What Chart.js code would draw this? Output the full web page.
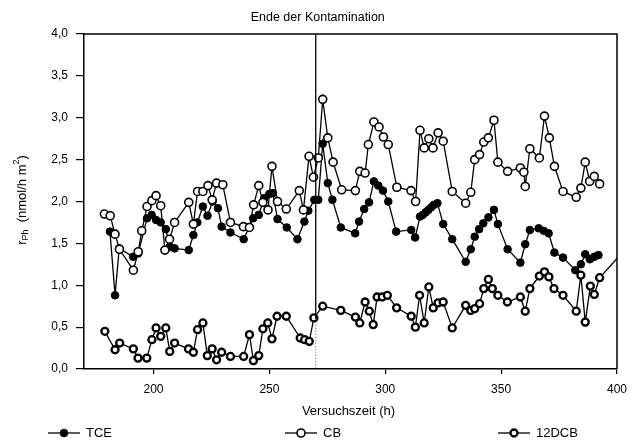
<!DOCTYPE html>
<html>
<head>
<meta charset="utf-8">
<script src="https://cdn.jsdelivr.net/npm/chart.js@4"></script>
<style>
  html, body { margin: 0; padding: 0; background: #fff; }
  #caixa { width: 640px; height: 442px; }
</style>
</head>
<body>
<div id="caixa"><canvas id="grafico"></canvas></div>
<script>
// tempos (h) e valores r_Ph
const tceHoras = [181.2, 183.4, 185.2, 191.2, 193.4, 197.2, 199.2, 201.1, 203.1, 205.3, 207.1, 209.1, 215.2, 217.2, 218.9, 221.3, 223.3, 225.5, 227.8, 229.4, 233.2, 238.9, 243.0, 245.4, 247.8, 250.0, 251.5, 253.5, 257.5, 262.1, 265.1, 266.8, 269.4, 271.1, 273.0, 275.2, 277.2, 280.8, 287.0, 288.7, 290.9, 293.0, 295.1, 297.0, 299.0, 301.3, 304.7, 311.2, 312.9, 315.0, 316.2, 317.4, 318.6, 319.8, 321.0, 322.5, 325.0, 328.9, 334.7, 336.9, 338.6, 340.5, 342.3, 344.5, 346.9, 348.6, 352.8, 358.3, 360.4, 362.4, 366.2, 368.4, 370.5, 373.0, 376.7, 382.0, 384.4, 386.3, 388.3, 390.2, 392.0];
const tceValores = [1.64, 0.88, 1.44, 1.34, 1.38, 1.80, 1.84, 1.78, 1.75, 1.67, 1.46, 1.44, 1.42, 1.60, 1.75, 1.94, 1.83, 2.00, 1.92, 1.70, 1.63, 1.55, 1.80, 1.84, 2.04, 2.09, 2.10, 1.79, 1.69, 1.55, 1.76, 1.89, 2.02, 2.02, 2.69, 2.22, 2.02, 1.69, 1.62, 1.76, 1.91, 1.99, 2.24, 2.19, 2.13, 2.00, 1.64, 1.66, 1.57, 1.82, 1.84, 1.87, 1.90, 1.93, 1.96, 1.98, 1.73, 1.55, 1.28, 1.43, 1.58, 1.67, 1.74, 1.81, 1.90, 1.73, 1.43, 1.27, 1.49, 1.66, 1.68, 1.65, 1.62, 1.39, 1.33, 1.18, 1.25, 1.37, 1.31, 1.34, 1.36];

const cbHoras = [178.8, 181.3, 183.4, 185.3, 191.3, 193.4, 194.9, 197.2, 199.3, 201.1, 203.1, 204.9, 206.9, 209.1, 215.2, 217.2, 219.0, 221.3, 223.5, 225.3, 227.2, 229.9, 233.2, 238.8, 241.4, 243.2, 245.4, 247.2, 249.4, 251.1, 253.5, 257.3, 262.9, 264.7, 267.1, 269.0, 271.1, 273.0, 275.2, 277.5, 281.2, 287.1, 289.0, 291.3, 292.7, 295.1, 297.3, 299.2, 301.3, 305.0, 311.1, 313.1, 315.0, 316.8, 318.8, 320.6, 322.8, 325.0, 328.9, 334.7, 336.9, 338.6, 340.7, 342.5, 344.5, 346.9, 348.6, 352.8, 358.3, 359.8, 360.4, 362.4, 366.5, 368.7, 370.8, 373.0, 376.7, 382.4, 384.4, 386.3, 388.2, 390.2, 392.5];
const cbValores = [1.85, 1.83, 1.61, 1.43, 1.18, 1.40, 1.65, 1.94, 2.01, 2.07, 1.95, 1.42, 1.55, 1.75, 1.99, 1.73, 2.12, 2.12, 2.19, 2.02, 2.22, 2.20, 1.75, 1.70, 1.69, 1.96, 2.19, 1.99, 1.90, 2.42, 2.00, 1.91, 2.13, 1.90, 2.54, 2.29, 2.52, 3.22, 2.76, 2.47, 2.14, 2.13, 2.36, 2.34, 2.68, 2.95, 2.89, 2.77, 2.68, 2.17, 2.13, 2.00, 2.85, 2.64, 2.75, 2.64, 2.82, 2.72, 2.12, 1.98, 2.11, 2.50, 2.56, 2.71, 2.76, 2.97, 2.47, 2.36, 2.40, 2.35, 2.18, 2.63, 2.52, 3.02, 2.76, 2.42, 2.12, 2.05, 2.16, 2.47, 2.24, 2.30, 2.21];

const dcbHoras = [179.0, 183.4, 185.4, 191.3, 193.3, 197.1, 199.3, 201.1, 203.1, 205.3, 207.0, 209.1, 215.1, 217.2, 219.0, 221.3, 223.2, 225.3, 227.2, 229.4, 233.2, 238.9, 241.4, 243.1, 245.4, 247.2, 249.3, 251.1, 253.3, 257.3, 263.3, 265.2, 267.2, 269.2, 273.0, 280.8, 287.1, 289.0, 291.3, 293.1, 294.8, 296.5, 298.7, 300.9, 304.9, 311.2, 313.0, 314.8, 316.8, 318.8, 320.7, 322.8, 325.0, 328.9, 334.7, 336.9, 338.6, 340.7, 342.5, 344.5, 346.2, 348.6, 352.7, 358.3, 360.4, 362.4, 366.5, 368.7, 370.6, 372.8, 376.7, 382.4, 384.4, 386.3, 388.5, 390.2, 392.5, 400.0];
const dcbValores = [0.45, 0.23, 0.31, 0.24, 0.13, 0.13, 0.35, 0.49, 0.39, 0.49, 0.21, 0.31, 0.24, 0.20, 0.47, 0.55, 0.16, 0.24, 0.11, 0.20, 0.15, 0.15, 0.41, 0.10, 0.16, 0.48, 0.55, 0.36, 0.63, 0.63, 0.37, 0.35, 0.33, 0.61, 0.75, 0.70, 0.62, 0.55, 0.80, 0.69, 0.53, 0.86, 0.86, 0.88, 0.73, 0.63, 0.50, 0.88, 0.55, 0.98, 0.73, 0.79, 0.80, 0.49, 0.76, 0.70, 0.72, 0.78, 0.96, 1.07, 0.96, 0.88, 0.80, 0.86, 0.69, 0.96, 1.11, 1.16, 1.10, 0.96, 0.88, 0.69, 1.12, 0.56, 0.99, 0.89, 1.09, 1.32];

const xTicks = [200, 250, 300, 350, 400];
const fimContaminacao = 270; // h
const FONTE = "'Liberation Sans', Arial, sans-serif";

const pontos = (horas, valores) => horas.map((h, i) => ({ x: h, y: valores[i] }));

const estilos = {
  TCE:   { pointBackgroundColor: '#000', pointBorderWidth: 1, pointRadius: 3.8 },
  CB:    { pointBackgroundColor: '#fff', pointBorderWidth: 1.6, pointRadius: 4 },
  '12DCB': { pointBackgroundColor: '#fff', pointBorderWidth: 2.3, pointRadius: 3.5 }
};

// moldura, títulos e legenda desenhados à mão
const extras = {
  id: 'extras',
  afterDraw(chart) {
    const { ctx, chartArea: a } = chart;
    ctx.save();
    ctx.strokeStyle = '#000';
    ctx.lineWidth = 1.5;
    ctx.beginPath();
    ctx.moveTo(a.left, a.top);
    ctx.lineTo(a.right, a.top);
    ctx.lineTo(a.right, a.bottom);
    ctx.stroke();

    ctx.fillStyle = '#000';
    ctx.textBaseline = 'middle';
    ctx.textAlign = 'center';
    ctx.font = '12.5px ' + FONTE;
    ctx.fillText('Ende der Kontamination', chart.scales.x.getPixelForValue(fimContaminacao) + 2, 18);

    ctx.font = '13px ' + FONTE;
    ctx.fillText('Versuchszeit (h)', (a.left + a.right) / 2 - 2, 411);

    // eixo y: r_Ph (nmol/h m²)
    ctx.translate(22, 200);
    ctx.rotate(-Math.PI / 2);
    ctx.textAlign = 'left';
    const partes = [['r', 13, 0], ['Ph', 9, 4], ['  (nmol/h m', 13, 0], ['2', 9, -5], [')', 13, 0]];
    let largura = 0;
    partes.forEach(p => { ctx.font = p[1] + 'px ' + FONTE; largura += ctx.measureText(p[0]).width; });
    let px = -largura / 2;
    partes.forEach(p => {
      ctx.font = p[1] + 'px ' + FONTE;
      ctx.fillText(p[0], px, p[2]);
      px += ctx.measureText(p[0]).width;
    });
    ctx.restore();

    // legenda
    ctx.save();
    const itens = [['TCE', 48], ['CB', 285], ['12DCB', 498]];
    itens.forEach(([nome, x0]) => {
      const y = 433;
      const e = estilos[nome];
      ctx.strokeStyle = '#000';
      ctx.lineWidth = 1.3;
      ctx.beginPath();
      ctx.moveTo(x0, y);
      ctx.lineTo(x0 + 32, y);
      ctx.stroke();
      ctx.beginPath();
      ctx.arc(x0 + 16, y, e.pointRadius, 0, Math.PI * 2);
      ctx.fillStyle = e.pointBackgroundColor;
      ctx.fill();
      ctx.lineWidth = e.pointBorderWidth;
      ctx.stroke();
      ctx.fillStyle = '#000';
      ctx.font = '13px ' + FONTE;
      ctx.textAlign = 'left';
      ctx.textBaseline = 'middle';
      ctx.fillText(nome, x0 + 38, y);
    });
    ctx.restore();
  }
};

const serie = (nome, horas, valores) => Object.assign({
  label: nome,
  data: pontos(horas, valores),
  borderColor: '#000',
  borderWidth: 1.3,
  pointBorderColor: '#000',
  tension: 0
}, estilos[nome]);

const dcb = serie('12DCB', dcbHoras, dcbValores);
dcb.pointRadius = ctx => ctx.dataIndex === dcbHoras.length - 1 ? 0 : estilos['12DCB'].pointRadius;

new Chart(document.getElementById('grafico'), {
  type: 'line',
  data: {
    datasets: [
      { data: [{ x: fimContaminacao, y: 4 }, { x: fimContaminacao, y: 0.6 }], borderColor: '#000', borderWidth: 1.3, pointRadius: 0 },
      { data: [{ x: fimContaminacao, y: 0.6 }, { x: fimContaminacao, y: 0 }], borderColor: '#555', borderWidth: 1, borderDash: [1, 2], pointRadius: 0 },
      dcb,
      serie('CB', cbHoras, cbValores),
      serie('TCE', tceHoras, tceValores)
    ]
  },
  options: {
    responsive: true,
    maintainAspectRatio: false,
    animation: false,
    layout: { padding: { top: 34, right: 23, left: 0, bottom: 0 } },
    plugins: { legend: { display: false }, tooltip: { enabled: false } },
    scales: {
      x: {
        type: 'linear',
        min: 170,
        max: 400,
        afterBuildTicks: s => { s.ticks = xTicks.map(v => ({ value: v })); },
        afterFit: s => { s.height = 73; },
        grid: { drawOnChartArea: false, color: '#000', tickLength: 5, lineWidth: 1.2 },
        border: { color: '#000', width: 1.5 },
        ticks: { color: '#000', padding: 8, maxRotation: 0, font: { family: FONTE, size: 12 } }
      },
      y: {
        min: 0,
        max: 4,
        afterFit: s => { s.width = 84; },
        grid: { drawOnChartArea: false, color: '#000', tickLength: 8, lineWidth: 1.2 },
        border: { color: '#000', width: 1.5 },
        ticks: {
          stepSize: 0.5,
          color: '#000',
          padding: 8,
          font: { family: FONTE, size: 12 },
          callback: v => v.toFixed(1).replace('.', ',')
        }
      }
    }
  },
  plugins: [extras]
});
</script>
</body>
</html>
